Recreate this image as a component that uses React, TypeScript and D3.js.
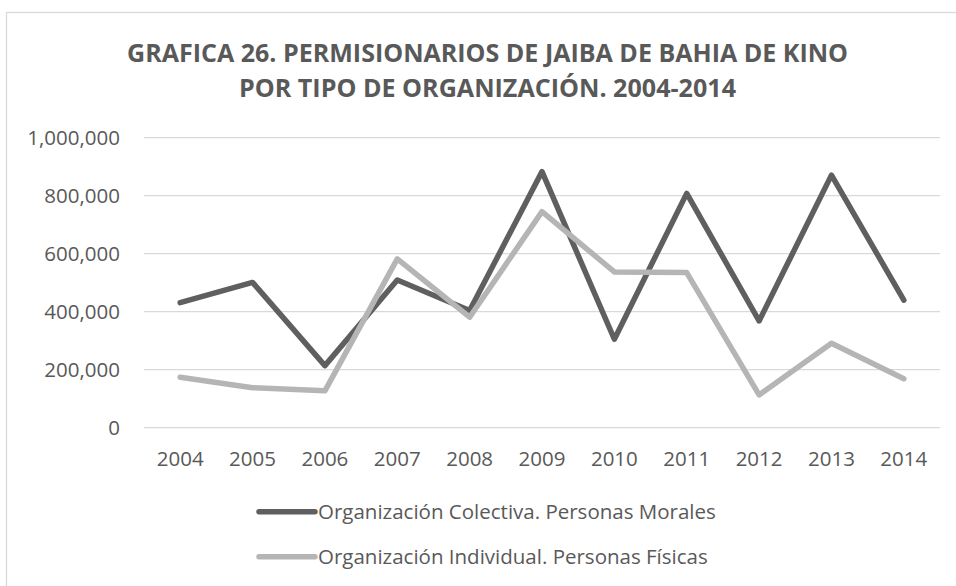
import { useMemo } from "react";
import * as d3 from "d3";

const W = 956;
const H = 586;
const PLOT = { left: 144, right: 940, top: 137.7, bottom: 427.7 };

const years = ["2004", "2005", "2006", "2007", "2008", "2009", "2010", "2011", "2012", "2013", "2014"];
const colectiva = [431000, 501000, 214000, 509000, 404000, 883000, 305000, 808000, 368000, 871000, 440000];
const individual = [174000, 138000, 127000, 582000, 381000, 745000, 537000, 535000, 113000, 291000, 169000];
const yTicks = [0, 200000, 400000, 600000, 800000, 1000000];

const titleLines = [
    "GRAFICA 26. PERMISIONARIOS DE JAIBA DE BAHIA DE KINO",
    "POR TIPO DE ORGANIZACIÓN. 2004-2014",
];
const seriesNames = [
    "Organización Colectiva. Personas Morales",
    "Organización Individual. Personas Físicas",
];

const DARK = "#5f5f5f";
const LIGHT = "#b5b5b5";
const TEXT = "#595959";
const FONT = "'Open Sans', sans-serif";

export default function App() {
    const xScale = useMemo(
        () => d3.scalePoint<string>().domain(years).range([PLOT.left, PLOT.right]).padding(0.5),
        []
    );
    const yScale = useMemo(
        () => d3.scaleLinear().domain([0, 1000000]).range([PLOT.bottom, PLOT.top]),
        []
    );
    const fmt = d3.format(",");

    const line = d3
        .line<number>()
        .x((_, i) => xScale(years[i]) as number)
        .y((d) => yScale(d));

    const series = [
        { name: seriesNames[0], values: colectiva, color: DARK },
        { name: seriesNames[1], values: individual, color: LIGHT },
    ];

    return (
        <svg
            width={W}
            height={H}
            style={{ position: "absolute", left: 0, top: 0, background: "#fff" }}
            fontFamily={FONT}
        >
            <rect x={6.5} y={12.5} width={980} height={600} fill="#fff" stroke="#d9d9d9" strokeWidth={1.3} />

            {/* title */}
            <text x={487.5} y={62} textAnchor="middle" fontSize={25} fontWeight={700} fill={TEXT} textLength={721} lengthAdjust="spacingAndGlyphs">
                {titleLines[0]}
            </text>
            <text x={487.5} y={97} textAnchor="middle" fontSize={25} fontWeight={700} fill={TEXT} textLength={497} lengthAdjust="spacingAndGlyphs">
                {titleLines[1]}
            </text>

            {/* grid + y labels */}
            {yTicks.map((t) => (
                <g key={t}>
                    <line x1={PLOT.left} x2={PLOT.right} y1={yScale(t)} y2={yScale(t)} stroke="#d9d9d9" strokeWidth={1.3} />
                    <text x={120} y={yScale(t)} dy="0.36em" textAnchor="end" fontSize={20.5} fill={TEXT}>
                        {fmt(t)}
                    </text>
                </g>
            ))}

            {/* x labels */}
            {years.map((y) => (
                <text key={y} x={xScale(y)} y={458.5} dy="0.36em" textAnchor="middle" fontSize={20.5} fill={TEXT}>
                    {y}
                </text>
            ))}

            {/* lines */}
            {series.map((s) => (
                <path
                    key={s.name}
                    d={line(s.values) as string}
                    fill="none"
                    stroke={s.color}
                    strokeWidth={5.5}
                    strokeLinecap="round"
                    strokeLinejoin="round"
                />
            ))}

            {/* legend */}
            {series.map((s, i) => {
                const ly = 511.7 + i * 45;
                return (
                    <g key={s.name}>
                        <line x1={259} x2={315} y1={ly} y2={ly} stroke={s.color} strokeWidth={5.5} strokeLinecap="round" />
                        <text x={318} y={ly} dy="0.36em" fontSize={20.5} fill={TEXT}>
                            {s.name}
                        </text>
                    </g>
                );
            })}
        </svg>
    );
}
